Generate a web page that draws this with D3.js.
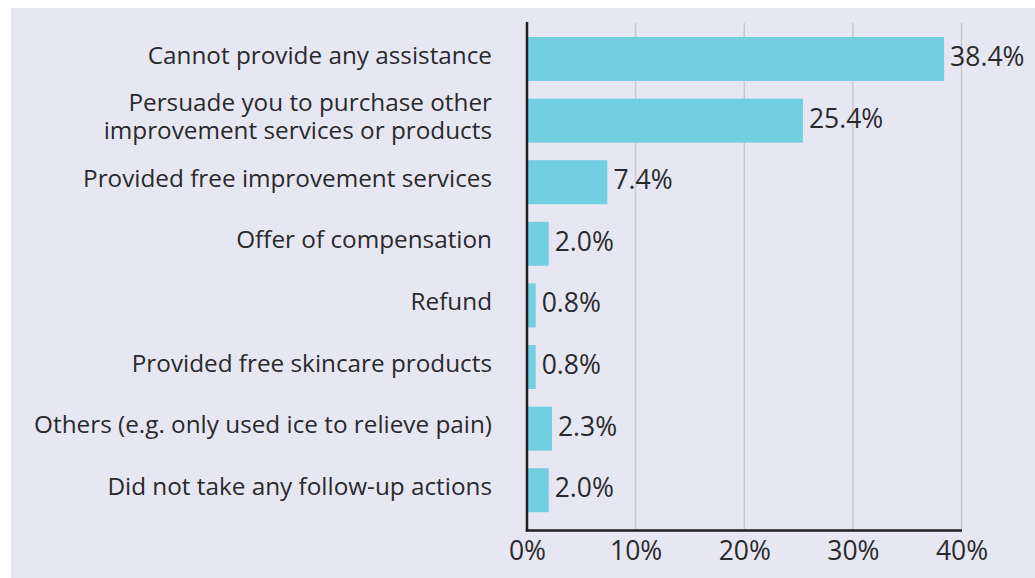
<!doctype html>
<html>
<head>
<meta charset="utf-8">
<script src="https://cdn.jsdelivr.net/npm/d3@7"></script>
<style>
  body { margin: 0; background: #fff; }
  svg { display: block; font-family: "Open Sans", "Noto Sans", sans-serif; }
</style>
</head>
<body>
<svg width="1035" height="578"></svg>
<script>
// data
var categories = [
  "Cannot provide any assistance",
  "Persuade you to purchase other|improvement services or products",
  "Provided free improvement services",
  "Offer of compensation",
  "Refund",
  "Provided free skincare products",
  "Others (e.g. only used ice to relieve pain)",
  "Did not take any follow-up actions"
];
var values = [38.4, 25.4, 7.4, 2.0, 0.8, 0.8, 2.3, 2.0];
var xTicks = [0, 10, 20, 30, 40];

var svg = d3.select("svg");
var textColor = "#2a2a2c";

// panel background
svg.append("rect")
  .attr("x", 11).attr("y", 8)
  .attr("width", 1035 - 11).attr("height", 578 - 8)
  .attr("fill", "#e7e7f3");

var x = d3.scaleLinear().domain([0, 40]).range([527, 961.5]);
var y = d3.scaleBand().domain(categories).range([28.2, 521])
  .paddingInner(0.286).paddingOuter(0.143);

// gridlines
svg.append("g").selectAll("line")
  .data(xTicks.slice(1))
  .enter().append("line")
    .attr("x1", function(d) { return x(d); })
    .attr("x2", function(d) { return x(d); })
    .attr("y1", 23).attr("y2", 530)
    .attr("stroke", "#c8c8d2").attr("stroke-width", 1.5);

// bars
svg.append("g").selectAll("rect")
  .data(values)
  .enter().append("rect")
    .attr("x", x(0))
    .attr("y", function(d, i) { return y(categories[i]); })
    .attr("width", function(d) { return x(d) - x(0); })
    .attr("height", y.bandwidth())
    .attr("fill", "#72cee1");

// value labels
svg.append("g").selectAll("text")
  .data(values)
  .enter().append("text")
    .attr("x", function(d) { return x(d) + 6; })
    .attr("y", function(d, i) { return y(categories[i]) + y.bandwidth() / 2 + 7; })
    .attr("fill", textColor)
    .style("font-size", "26.5px")
    .text(function(d) { return d.toFixed(1) + "%"; });

// category labels (left axis)
var yAxis = svg.append("g")
  .attr("transform", "translate(492,0)")
  .call(d3.axisLeft(y).tickSize(0).tickPadding(0));
yAxis.select(".domain").remove();
yAxis.selectAll("text")
  .attr("fill", textColor)
  .style("font-size", "24.3px")
  .style("font-family", "'Open Sans', 'Noto Sans', sans-serif")
  .attr("text-anchor", "end")
  .attr("dy", null)
  .each(function(d) {
    var lines = d.split("|");
    var t = d3.select(this).text(null);
    var off = 4.5 - (lines.length - 1) * 27.6 / 2;
    lines.forEach(function(l, k) {
      t.append("tspan").attr("x", 0).attr("y", off + k * 27.6).text(l);
    });
  });

// bottom axis labels
var xAxis = svg.append("g")
  .attr("transform", "translate(0,530)")
  .call(d3.axisBottom(x).tickValues(xTicks).tickSize(0).tickPadding(0)
    .tickFormat(function(d) { return d + "%"; }));
xAxis.select(".domain").remove();
xAxis.selectAll("text")
  .attr("fill", textColor)
  .attr("dy", null)
  .attr("y", 30)
  .style("font-size", "26.5px")
  .style("font-family", "'Open Sans', 'Noto Sans', sans-serif");

// axis lines
svg.append("line")
  .attr("x1", x(0)).attr("x2", x(0))
  .attr("y1", 22).attr("y2", 531.5)
  .attr("stroke", "#231f20").attr("stroke-width", 2.5);
svg.append("line")
  .attr("x1", x(0) - 1.25).attr("x2", x(40) + 0.5)
  .attr("y1", 530.5).attr("y2", 530.5)
  .attr("stroke", "#231f20").attr("stroke-width", 2.5);
</script>
</body>
</html>
